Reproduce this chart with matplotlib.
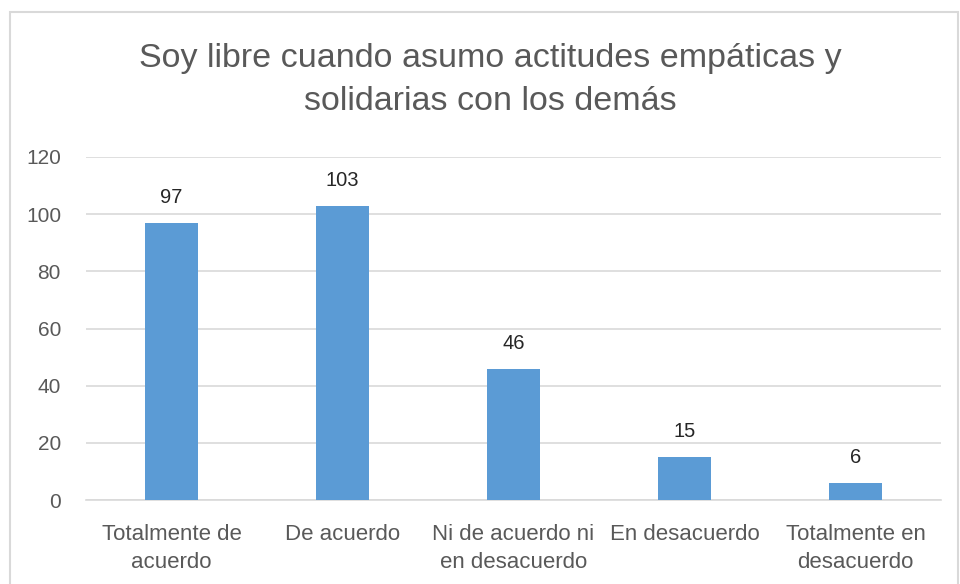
import matplotlib

matplotlib.use("Agg")
import matplotlib.pyplot as plt
from matplotlib.patches import Rectangle

# Données du graphique
categories = ["Totalmente de\nacuerdo", "De acuerdo", "Ni de acuerdo ni\nen desacuerdo",
              "En desacuerdo", "Totalmente en\ndesacuerdo"]
valeurs = [97, 103, 46, 15, 6]
titre = "Soy libre cuando asumo actitudes empáticas y\nsolidarias con los demás"

gris = '#595959'
bleu = '#5b9bd5'

plt.rcParams['font.family'] = ['Liberation Sans', 'DejaVu Sans']

fig = plt.figure(figsize=(9.6, 5.84), dpi=100)
fig.patch.set_facecolor('white')

# Cadre du graphique
fig.patches.append(Rectangle((10 / 960, -0.05), 948 / 960, 1.05 - 12 / 584, transform=fig.transFigure,
                             fill=False, edgecolor='#d9d9d9', linewidth=1.5))

ax = fig.add_axes([86 / 960, 84 / 584, 855 / 960, 343 / 584])
x = range(len(categories))
barres = ax.bar(x, valeurs, width=0.31, color=bleu, zorder=3)

for b, v in zip(barres, valeurs):
    ax.text(b.get_x() + b.get_width() / 2, v + 5.5, str(v), ha='center', va='bottom',
            fontsize=14.5, color='#262626')

ax.set_xlim(-0.5, len(categories) - 0.5)
ax.set_ylim(0, 120)
ax.set_yticks(range(0, 121, 20))
ax.set_xticks(list(x))
ax.set_xticklabels(categories, fontsize=16, color=gris, linespacing=1.45)
ax.tick_params(axis='y', colors=gris, labelsize=15, length=0, pad=18)
ax.tick_params(axis='x', length=0, pad=17)
ax.grid(True, axis='y', color='#d9d9d9', linewidth=1.2, zorder=0)
for s in ['top', 'right', 'left']:
    ax.spines[s].set_visible(False)
ax.spines['bottom'].set_color('#d9d9d9')
ax.spines['bottom'].set_linewidth(1.2)

fig.text(490 / 960, 1 - 80 / 584, titre, ha='center', va='center', fontsize=24.5,
         color=gris, linespacing=1.5)

plt.savefig('out.png', dpi=100)
